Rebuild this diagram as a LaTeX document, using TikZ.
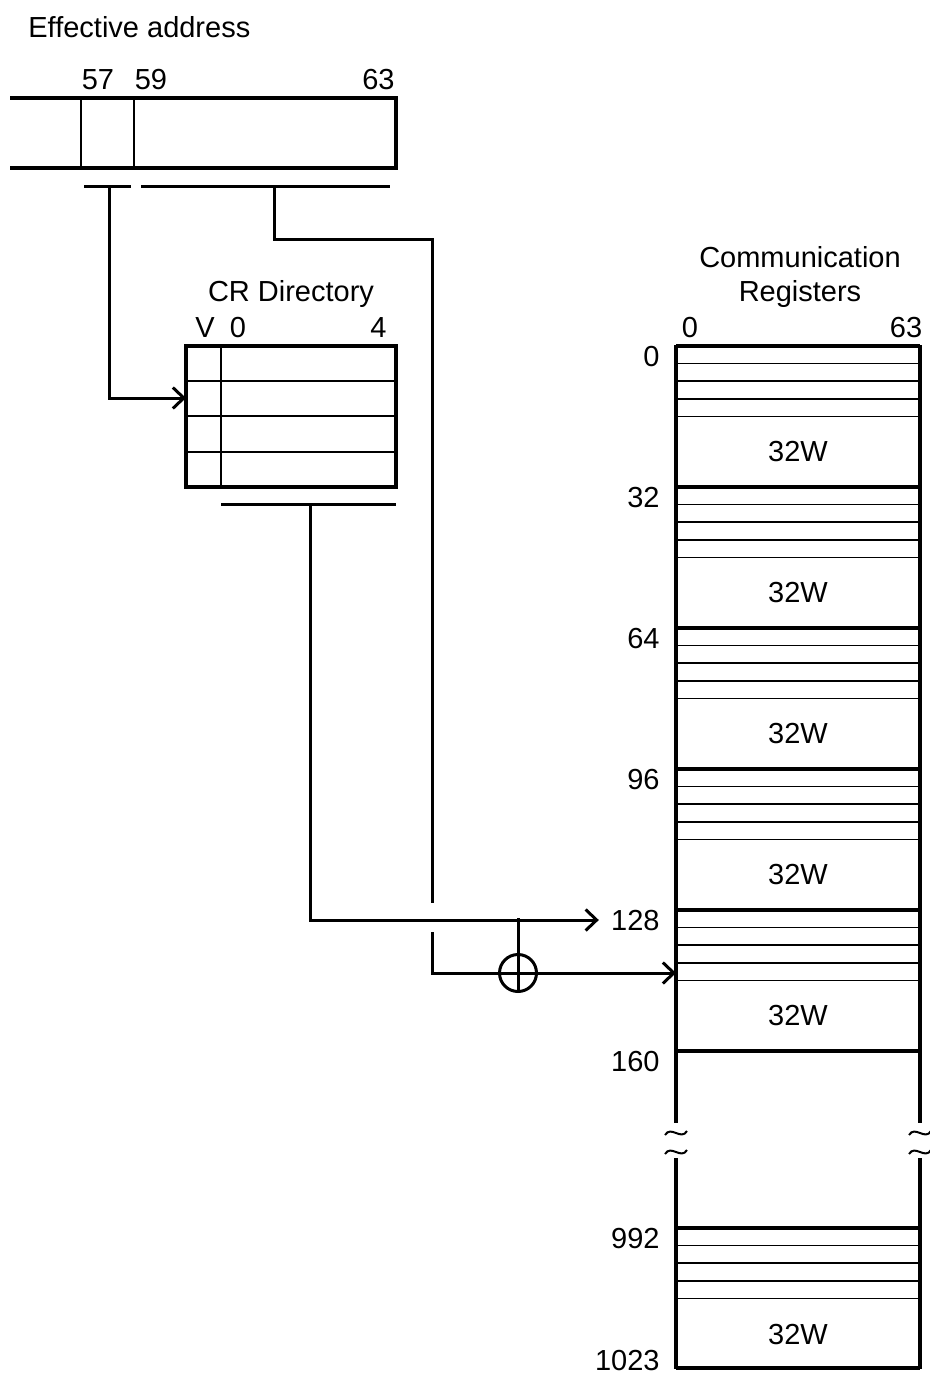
\documentclass[tikz,border=0pt]{standalone}
\usepackage{fontspec}
\setmainfont{Liberation Sans}
\usetikzlibrary{arrows.meta}
\begin{document}
\begin{tikzpicture}[x=0.5pt, y=-0.5pt, font=\fontsize{14.5}{17}\selectfont,
    thickln/.style={line width=1.6pt},
    thinln/.style={line width=0.75pt},
    wire/.style={line width=1.5pt},
    wirearr/.style={wire, -{Straight Barb[length=5.5pt, width=10.5pt]}},
    lbl/.style={inner sep=0pt},
    xorop/.style={draw, circle, line width=1.5pt, minimum size=18.5pt, inner sep=0pt}]
  \useasboundingbox (0,0) rectangle (930,1374);

  % effective address register
  \node[lbl, anchor=base west] (eatitle) at (28,38) {Effective address};
  \draw[thickln] (10,98) -- (396,98) -- (396,168) -- (10,168);
  \draw[thinln] (81,98) -- (81,168) (134,98) -- (134,168);
  \node[lbl, anchor=base] (b57) at (98,90) {57};
  \node[lbl, anchor=base] (b59) at (151,90) {59};
  \node[lbl, anchor=base east] (b63) at (395,90) {63};
  \draw[wire] (84,187) -- (131,187) (141,187) -- (390,187);
  \coordinate (eaLo) at (109,187);
  \coordinate (eaHi) at (274,187);

  % CR directory
  \node[lbl, anchor=base] (dirtitle) at (291,302) {CR Directory};
  \node[lbl, anchor=base] (dirV) at (205,337) {V};
  \node[lbl, anchor=base] (dir0) at (238,337) {0};
  \node[lbl, anchor=base east] (dir4) at (387,337) {4};
  \foreach \y in {381,416,452} \draw[thinln] (186,\y) -- (396,\y);
  \draw[thinln] (221,346) -- (221,487);
  \draw[thickln] (186,346) rectangle (396,487);
  \draw[wire] (221,504) -- (396,504);
  \coordinate (dirIn) at (186,398);
  \coordinate (dirOut) at (310,504);

  % communication registers
  \node[lbl, anchor=base] (crtitle) at (800,268) {Communication};
  \node[lbl, anchor=base] (crtitle2) at (800,302) {Registers};
  \node[lbl, anchor=base] (cr0) at (690,337) {0};
  \node[lbl, anchor=base] (cr63) at (906,337) {63};
  \foreach \k/\addr in {0/0,1/32,2/64,3/96,4/128,5/160} {
    \pgfmathsetmacro{\y}{346+141*\k}
    \draw[thickln] (676,\y) -- (920,\y);
    \node[lbl, anchor=base east] (addr\k) at (660,\y+20) {\addr};
    \ifnum\k<5
      \foreach \d in {17.6,35.2,52.8,70.4} \draw[thinln] (676,\y+\d) -- (920,\y+\d);
      \node (word\k) at (798,\y+106) {32W};
    \fi
  }
  \draw[thickln] (676,1228) -- (920,1228);
  \foreach \d in {17.6,35.2,52.8,70.4} \draw[thinln] (676,1228+\d) -- (920,1228+\d);
  \node (wordlast) at (798,1334) {32W};
  \node[lbl, anchor=base east] (addrA) at (660,1248) {992};
  \node[lbl, anchor=base east] (addrB) at (660,1370) {1023};
  \draw[thickln] (676,1368) -- (920,1368);
  \foreach \x in {676,920} {
    \draw[thickln] (\x,345) -- (\x,1123);
    \draw[thickln] (\x,1158) -- (\x,1369);
    \foreach \y in {1133,1152}
      \draw[line width=1pt] (\x-11,\y+2) .. controls (\x-5,\y-8) and (\x+5,\y+8) .. (\x+11,\y-2);
  }

  % address paths
  \coordinate (gapTop) at (432,903);
  \coordinate (gapBot) at (432,932);
  \coordinate (crIn) at (676,973);
  \coordinate (junc) at (518,918);
  \node[xorop] (adder) at (518,973) {};
  \draw[wirearr] (eaLo) |- (dirIn);
  \draw[wire] (eaHi) -- ++(0,53) -| (gapTop);
  \draw[wirearr] (gapBot) |- (crIn);
  \draw[wirearr] (dirOut) |- ([xshift=-6pt]addr4.west);
  \draw[wire] (junc) -- (adder.south);
\end{tikzpicture}
\end{document}
